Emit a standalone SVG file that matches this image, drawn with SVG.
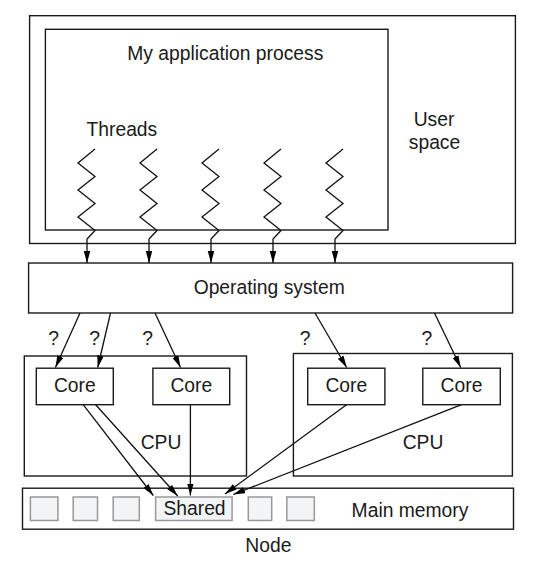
<svg xmlns="http://www.w3.org/2000/svg" width="560" height="578" viewBox="0 0 560 578">
<defs>
<marker id="ah" markerUnits="userSpaceOnUse" markerWidth="13" markerHeight="7" refX="12" refY="3.25" orient="auto">
<path d="M0,0 L12,3.25 L0,6.5 z" fill="#000"/>
</marker>
<style>
.box{fill:#fff;stroke:#1a1a1a;stroke-width:1.4}
.mem{fill:#f2f4f5;stroke:#999;stroke-width:1.5}
.t{font-family:"Liberation Sans",Arial,sans-serif;font-size:19.3px;fill:#1a1a1a}
.m{text-anchor:middle}
.c{fill:none;stroke:#111;stroke-width:1.3}
.ca{fill:none;stroke:#111;stroke-width:1.3;marker-end:url(#ah)}
</style>
</defs>
<rect width="560" height="578" fill="#fff"/>

<g id="user-space">
<rect class="box" x="29.6" y="15.7" width="485.8" height="227.8"/>
<text class="t m" x="434" y="125.5">User</text>
<text class="t m" x="434.5" y="148.5">space</text>
</g>
<g id="app-process">
<rect class="box" x="45.4" y="29.3" width="342.6" height="200.7"/>
<text class="t m" x="225.3" y="60">My application process</text>
<text class="t" x="86.5" y="135.5">Threads</text>
</g>
<g id="os">
<rect class="box" x="28.6" y="263" width="484" height="50"/>
<text class="t m" x="269.2" y="294">Operating system</text>
</g>
<g id="cpu-left">
<rect class="box" x="24.3" y="356" width="222.2" height="120"/>
<text class="t m" x="161" y="448.5">CPU</text>
</g>
<g id="cpu-right">
<rect class="box" x="293.4" y="353.5" width="219" height="122.5"/>
<text class="t m" x="423" y="448.5">CPU</text>
</g>
<g id="core1">
<rect class="box" x="36.3" y="368.2" width="77" height="36.5"/>
<text class="t m" x="74.8" y="392">Core</text>
</g>
<g id="core2">
<rect class="box" x="152.9" y="368.2" width="76.8" height="36.5"/>
<text class="t m" x="191.3" y="392">Core</text>
</g>
<g id="core3">
<rect class="box" x="307.7" y="368.2" width="77.2" height="36.5"/>
<text class="t m" x="346.3" y="392">Core</text>
</g>
<g id="core4">
<rect class="box" x="422.8" y="368.2" width="77.5" height="36.5"/>
<text class="t m" x="461.5" y="392">Core</text>
</g>
<g id="main-memory">
<rect class="box" x="22.5" y="488.2" width="491" height="41"/>
<rect class="mem" x="30.4" y="497" width="27.5" height="23.5"/>
<rect class="mem" x="73.2" y="497" width="24.3" height="23.5"/>
<rect class="mem" x="113.2" y="497" width="26.1" height="23.5"/>
<rect class="mem" x="248.3" y="497" width="23.4" height="23.5"/>
<rect class="mem" x="286.8" y="497" width="27.5" height="23.5"/>
<text class="t m" x="410" y="516.5">Main memory</text>
</g>
<g id="shared">
<rect class="mem" x="155.6" y="497" width="76.5" height="23.5"/>
<text class="t m" x="194.5" y="514.5">Shared</text>
</g>
<g id="node-label">
<text class="t m" x="268.4" y="551.5">Node</text>
</g>

<g id="connectors">
<path class="ca" d="M95,149 L78,163 L95,176.5 L78,190 L95,203.5 L78,217 L95,230.5 L87,239 L87,263"/>
<path class="ca" d="M157,149 L140,163 L157,176.5 L140,190 L157,203.5 L140,217 L157,230.5 L149,239 L149,263"/>
<path class="ca" d="M219,149 L202,163 L219,176.5 L202,190 L219,203.5 L202,217 L219,230.5 L211,239 L211,263"/>
<path class="ca" d="M281,149 L264,163 L281,176.5 L264,190 L281,203.5 L264,217 L281,230.5 L273,239 L273,263"/>
<path class="ca" d="M343,149 L326,163 L343,176.5 L326,190 L343,203.5 L326,217 L343,230.5 L335,239 L335,263"/>

<line class="ca" x1="80" y1="313" x2="55.4" y2="367.5"/>
<line class="ca" x1="110.5" y1="313" x2="97.7" y2="367.5"/>
<line class="ca" x1="155" y1="313" x2="180.5" y2="367.5"/>
<line class="ca" x1="315" y1="313" x2="346.7" y2="367.5"/>
<line class="ca" x1="434.5" y1="313" x2="460.7" y2="367.5"/>

<line class="ca" x1="83.2" y1="404.7" x2="153.3" y2="495.5"/>
<line class="ca" x1="95.7" y1="404.7" x2="177.7" y2="496"/>
<line class="ca" x1="190.4" y1="404.7" x2="190.4" y2="495.5"/>
<line class="ca" x1="346.5" y1="404.7" x2="225" y2="494"/>
<line class="ca" x1="461.5" y1="404.7" x2="233.3" y2="494.5"/>

<text class="t m" x="53.6" y="344.5">?</text>
<text class="t m" x="94.6" y="344.5">?</text>
<text class="t m" x="147.5" y="344.5">?</text>
<text class="t m" x="305" y="344.5">?</text>
<text class="t m" x="426.8" y="344.5">?</text>
</g>
</svg>
